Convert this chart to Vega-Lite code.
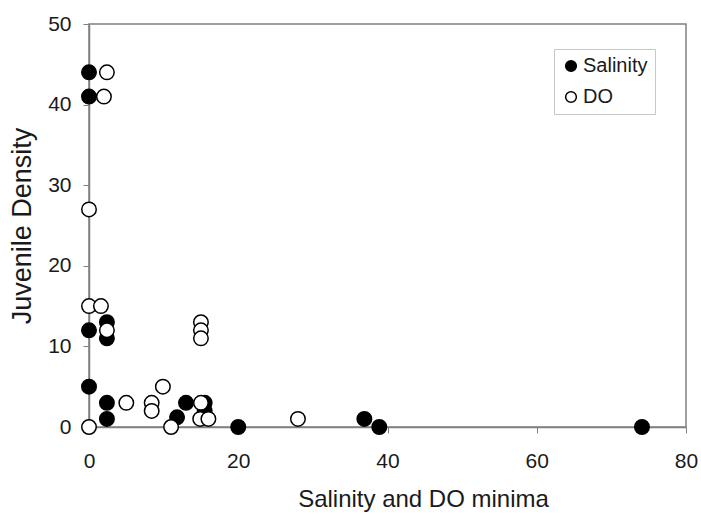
{
  "$schema": "https://vega.github.io/schema/vega-lite/v6.json",
  "width": 597,
  "height": 403,
  "autosize": {"type": "none"},
  "padding": {"left": 89, "top": 24, "right": 15, "bottom": 87},
  "background": "white",
  "config": {
    "font": "Liberation Sans",
    "view": {"stroke": "#808080", "strokeWidth": 1.5},
    "axis": {
      "grid": false,
      "labelFlush": false,
      "domainColor": "#808080",
      "domainWidth": 1.5,
      "tickColor": "#808080",
      "tickSize": 6,
      "labelFont": "Liberation Sans",
      "labelFontSize": 21,
      "labelColor": "#1a1a1a",
      "titleFont": "Liberation Sans",
      "titleFontWeight": "normal",
      "titleColor": "#1a1a1a"
    }
  },
  "data": {
    "values": [
      {"series": "Salinity", "x": 0, "y": 44},
      {"series": "Salinity", "x": 0, "y": 41},
      {"series": "Salinity", "x": 0, "y": 12},
      {"series": "Salinity", "x": 0, "y": 5},
      {"series": "Salinity", "x": 2.4, "y": 13},
      {"series": "Salinity", "x": 2.4, "y": 11},
      {"series": "Salinity", "x": 2.4, "y": 3},
      {"series": "Salinity", "x": 2.4, "y": 1},
      {"series": "Salinity", "x": 11.8, "y": 1.2},
      {"series": "Salinity", "x": 13, "y": 3},
      {"series": "Salinity", "x": 15.5, "y": 3},
      {"series": "Salinity", "x": 15.5, "y": 2},
      {"series": "Salinity", "x": 20, "y": 0},
      {"series": "Salinity", "x": 36.9, "y": 1},
      {"series": "Salinity", "x": 38.9, "y": 0},
      {"series": "Salinity", "x": 74.1, "y": 0},
      {"series": "DO", "x": 2.4, "y": 44},
      {"series": "DO", "x": 2, "y": 41},
      {"series": "DO", "x": 0, "y": 27},
      {"series": "DO", "x": 0, "y": 15},
      {"series": "DO", "x": 1.6, "y": 15},
      {"series": "DO", "x": 2.4, "y": 12},
      {"series": "DO", "x": 0, "y": 0},
      {"series": "DO", "x": 5, "y": 3},
      {"series": "DO", "x": 8.4, "y": 3},
      {"series": "DO", "x": 8.4, "y": 2},
      {"series": "DO", "x": 9.9, "y": 5},
      {"series": "DO", "x": 11, "y": 0},
      {"series": "DO", "x": 15, "y": 13},
      {"series": "DO", "x": 15, "y": 12},
      {"series": "DO", "x": 15, "y": 11},
      {"series": "DO", "x": 15, "y": 3},
      {"series": "DO", "x": 14.9, "y": 1},
      {"series": "DO", "x": 16, "y": 1},
      {"series": "DO", "x": 28, "y": 1}
    ]
  },
  "mark": {"type": "point", "shape": "circle", "filled": true, "size": 210, "stroke": "black", "strokeWidth": 1.5, "opacity": 1},
  "encoding": {
    "x": {
      "field": "x",
      "type": "quantitative",
      "scale": {"domain": [0, 80], "nice": false, "zero": false},
      "axis": {"values": [0, 20, 40, 60, 80], "title": "Salinity and DO minima", "titleFontSize": 24, "titlePadding": 16, "labelPadding": 17, "titleX": 334, "titleAlign": "center"}
    },
    "y": {
      "field": "y",
      "type": "quantitative",
      "scale": {"domain": [0, 50], "nice": false},
      "axis": {"values": [0, 10, 20, 30, 40, 50], "title": "Juvenile Density", "titleFontSize": 27, "titlePadding": 11, "labelPadding": 12}
    },
    "fill": {
      "field": "series",
      "type": "nominal",
      "scale": {"domain": ["Salinity", "DO"], "range": ["black", "white"]},
      "legend": {
        "title": null,
        "orient": "none",
        "legendX": 465,
        "legendY": 25,
        "symbolType": "circle",
        "symbolSize": 115,
        "symbolStrokeColor": "black",
        "symbolStrokeWidth": 1.5,
        "labelFontSize": 20,
        "labelFont": "Liberation Sans",
        "labelColor": "#1a1a1a",
        "rowPadding": 11,
        "padding": 7,
        "strokeColor": "#c8c8c8",
        "fillColor": "white",
        "labelOffset": 2
      }
    },
    "order": {"field": "series", "sort": "descending"}
  }
}
